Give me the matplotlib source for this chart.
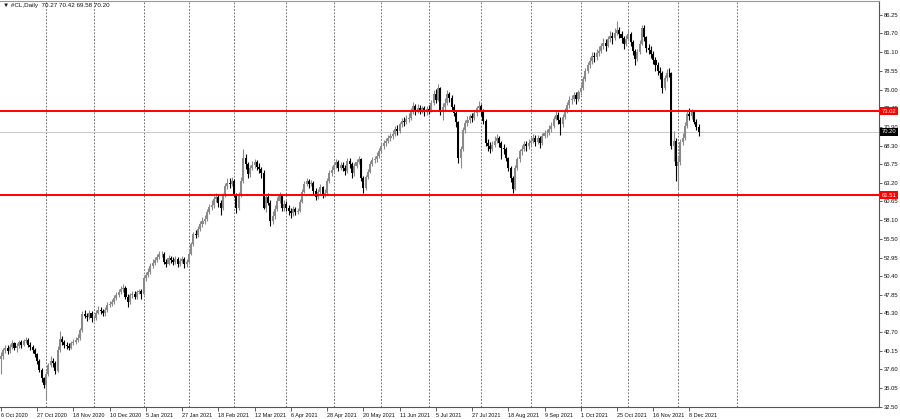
import numpy as np
import matplotlib
matplotlib.use("Agg")
import matplotlib.pyplot as plt

# ---- data (daily bars, #CL) ----
symbol = "#CL,Daily"
last_ohlc = ["70.27", "70.42", "69.58", "70.20"]
first_open = 39.0

closes = [
    39.4, 40.2, 40.6, 40.1, 40.7, 41.2, 40.5, 40.8, 41.3, 41.0,
    41.5, 41.7, 41.0, 40.7, 40.2, 39.7, 38.8, 37.5, 36.4, 35.4,
    37.0, 38.2, 38.8, 38.5, 37.4, 40.3, 41.8, 41.4, 41.0, 40.8,
    40.6, 41.2, 41.4, 41.6, 41.9, 43.0, 45.2, 45.0, 44.8, 45.3,
    44.6, 44.6, 45.4, 45.8, 45.6, 45.3, 45.7, 46.4, 46.6, 46.8,
    47.4, 47.8, 48.2, 48.6, 48.8, 47.6, 46.9, 47.8, 48.0, 47.6,
    48.2, 48.4, 48.0, 50.2, 50.6, 51.0, 51.8, 52.2, 52.6, 53.0,
    53.4, 53.5, 52.4, 52.1, 52.9, 52.6, 52.4, 52.8, 52.1, 52.5,
    52.7, 52.0, 52.3, 53.5, 54.8, 56.2, 56.0, 56.9, 57.6, 58.0,
    58.3, 59.2, 59.9, 60.1, 61.0, 61.2, 60.5, 59.8, 61.5, 62.8,
    63.2, 63.0, 63.5, 61.5, 59.8, 61.6, 63.5, 66.6, 65.8, 64.4,
    65.2, 65.6, 66.0, 65.4, 65.1, 64.6, 59.8, 61.2, 60.5, 58.0,
    58.6, 59.6, 60.7, 61.4, 59.8, 60.3, 59.8, 59.4, 59.0, 59.6,
    59.2, 59.4, 60.6, 62.0, 63.1, 63.4, 63.0, 63.2, 62.1, 61.2,
    61.9, 62.6, 61.5, 61.8, 63.4, 64.6, 65.0, 65.6, 66.0, 65.3,
    65.7, 65.3, 64.8, 66.2, 65.8, 64.5, 65.5, 66.1, 66.5, 63.9,
    62.5, 64.0, 64.7, 65.8, 66.3, 66.4, 66.9, 67.6, 68.3, 68.7,
    68.9, 69.3, 69.6, 69.9, 70.6, 70.3, 71.2, 71.7, 71.5, 72.0,
    72.1, 73.0, 73.8, 73.1, 73.5, 73.1, 73.4, 72.9, 73.3, 73.1,
    74.2, 75.4, 74.6, 76.2, 73.1, 73.6, 74.2, 75.4, 74.9, 73.6,
    72.8, 71.5, 66.6, 67.8, 70.4, 71.4, 71.8, 72.3, 72.1, 72.8,
    73.4, 73.8, 73.0, 71.7, 68.7, 68.3, 67.9, 68.4, 69.0, 69.3,
    68.6, 68.0, 67.9, 66.6, 65.3, 63.8, 62.4, 65.3, 66.4, 67.5,
    67.9, 68.5, 68.2, 68.7, 69.0, 69.4, 68.8, 69.3, 68.7, 69.6,
    70.0, 70.1, 70.6, 71.0, 72.0, 72.5, 71.8, 71.3, 72.2, 73.1,
    73.9, 74.6, 74.7, 75.2, 74.7, 75.6, 76.2, 77.4, 78.6, 79.4,
    79.9, 80.6, 80.4, 81.0, 81.3, 81.9, 82.4, 82.0, 82.9, 83.4,
    83.0, 83.8, 84.1, 83.6, 83.1, 82.3, 82.9, 83.6, 82.5, 81.3,
    80.2, 81.2, 82.3, 84.5, 83.2, 81.7, 81.4, 80.9, 80.1, 79.3,
    78.6, 78.3, 76.2, 77.6, 78.3, 78.2, 68.3, 69.0, 65.5, 66.0,
    68.8, 69.4, 71.0, 72.6, 72.3, 72.9, 71.6, 70.9, 70.2,
]

highs = [
    40.0, 40.5, 41.0, 40.9, 41.1, 41.6, 41.4, 41.2, 41.7, 41.6,
    41.8, 42.0, 41.9, 41.3, 41.0, 40.5, 39.9, 39.1, 37.8, 36.6,
    37.4, 38.5, 39.5, 39.2, 38.7, 40.8, 42.9, 42.2, 41.7, 41.4,
    41.2, 41.5, 41.8, 42.0, 42.5, 43.3, 45.6, 45.8, 45.4, 45.7,
    45.6, 45.1, 45.8, 46.3, 46.2, 45.9, 46.1, 46.8, 47.0, 47.3,
    47.8, 48.2, 48.6, 49.1, 49.3, 49.0, 47.9, 48.1, 48.4, 48.3,
    48.5, 48.7, 48.6, 50.5, 51.0, 51.5, 52.2, 52.7, 53.0, 53.5,
    53.9, 53.9, 53.7, 52.8, 53.3, 53.2, 53.0, 53.2, 53.0, 52.9,
    53.1, 53.0, 52.7, 53.8, 55.1, 56.5, 56.7, 57.3, 58.0, 58.5,
    58.8, 59.6, 60.3, 60.9, 61.4, 61.8, 61.5, 60.8, 61.8, 63.2,
    63.8, 63.8, 64.0, 63.7, 61.8, 62.0, 64.0, 67.9, 67.1, 66.1,
    65.7, 66.2, 66.5, 66.3, 65.9, 65.4, 64.9, 61.6, 61.8, 60.9,
    59.3, 60.2, 61.3, 61.9, 61.6, 60.8, 60.7, 60.2, 59.8, 60.0,
    59.9, 59.8, 61.0, 62.3, 63.5, 63.8, 63.7, 63.6, 63.4, 62.5,
    62.3, 63.0, 62.8, 62.3, 63.8, 65.0, 65.5, 66.0, 66.5, 66.3,
    66.1, 66.0, 65.6, 66.6, 66.6, 66.0, 65.9, 66.5, 66.9, 66.6,
    64.2, 64.3, 65.1, 66.2, 66.7, 66.9, 67.4, 68.0, 68.7, 69.1,
    69.4, 69.7, 70.0, 70.5, 71.0, 71.1, 71.6, 72.1, 72.2, 72.5,
    72.8, 73.4, 74.3, 74.0, 74.0, 73.9, 73.8, 73.7, 73.8, 73.9,
    74.6, 75.9, 76.1, 76.8, 76.4, 74.1, 74.8, 75.9, 75.7, 75.2,
    74.0, 73.1, 71.7, 68.2, 70.8, 71.8, 72.3, 72.7, 72.8, 73.2,
    73.8, 74.4, 74.0, 73.3, 71.9, 69.2, 68.8, 68.9, 69.6, 69.9,
    69.6, 68.9, 68.5, 68.1, 66.8, 65.5, 64.1, 65.6, 66.8, 67.9,
    68.4, 69.0, 69.0, 69.2, 69.5, 69.9, 69.7, 69.8, 69.6, 70.1,
    70.5, 70.6, 71.1, 71.5, 72.4, 73.2, 72.9, 72.2, 72.6, 73.5,
    74.3, 75.1, 75.3, 75.7, 75.6, 76.0, 76.7, 77.8, 79.0, 79.8,
    80.4, 81.1, 81.2, 81.5, 81.9, 82.4, 83.0, 82.9, 83.4, 84.0,
    83.9, 84.4, 85.4, 84.6, 84.0, 83.4, 83.5, 84.2, 83.9, 82.8,
    81.6, 81.6, 82.8, 84.9, 84.8, 83.4, 82.2, 81.9, 81.3, 80.5,
    79.8, 79.1, 78.6, 78.0, 78.8, 78.9, 78.4, 70.3, 69.4, 67.0,
    69.2, 70.0, 71.6, 73.1, 73.4, 73.3, 73.1, 72.0, 71.3,
]

lows = [
    37.0, 39.1, 39.9, 39.7, 39.9, 40.4, 40.2, 40.0, 40.6, 40.6,
    40.8, 41.2, 40.7, 40.3, 39.8, 39.3, 38.4, 37.2, 35.9, 35.0,
    33.6, 36.7, 37.9, 38.0, 37.0, 37.2, 40.0, 40.9, 40.5, 40.4,
    40.2, 40.4, 40.9, 41.1, 41.3, 41.7, 42.8, 44.6, 44.3, 44.5,
    44.1, 44.2, 44.4, 45.2, 45.2, 44.9, 45.0, 45.5, 46.1, 46.3,
    46.6, 47.1, 47.5, 47.9, 48.2, 47.2, 46.2, 46.6, 47.4, 47.2,
    47.3, 47.9, 47.2, 47.8, 49.8, 50.3, 50.7, 51.5, 51.9, 52.3,
    52.7, 53.0, 52.0, 51.7, 51.9, 52.2, 51.9, 52.1, 51.6, 51.8,
    52.2, 51.5, 51.7, 52.1, 53.3, 54.6, 55.6, 55.8, 56.6, 57.2,
    57.5, 58.0, 58.9, 59.5, 59.8, 60.6, 59.9, 58.8, 59.5, 61.2,
    62.4, 62.5, 62.7, 61.2, 59.1, 59.5, 61.3, 63.2, 65.1, 63.9,
    64.0, 64.9, 65.2, 64.9, 64.6, 63.9, 59.6, 59.2, 60.1, 57.3,
    57.6, 58.3, 59.4, 60.5, 59.4, 59.4, 59.3, 58.8, 58.4, 58.7,
    58.8, 58.9, 59.2, 60.4, 61.8, 62.8, 62.5, 62.7, 61.7, 60.9,
    61.0, 61.6, 61.1, 61.2, 61.6, 63.2, 64.2, 64.7, 65.3, 64.8,
    65.0, 64.8, 64.3, 64.6, 65.2, 63.9, 64.2, 65.2, 65.8, 63.5,
    61.8, 62.2, 63.7, 64.5, 65.5, 65.9, 66.1, 66.6, 67.3, 67.9,
    68.3, 68.6, 69.0, 69.2, 69.6, 69.8, 70.0, 70.8, 71.0, 71.2,
    71.6, 71.8, 72.7, 72.5, 72.8, 72.6, 72.8, 72.4, 72.5, 72.6,
    72.9, 73.9, 74.1, 74.4, 72.5, 71.8, 73.2, 73.9, 74.3, 73.1,
    72.3, 70.9, 65.9, 65.3, 67.5, 70.0, 71.0, 71.4, 71.6, 71.8,
    72.4, 72.9, 72.4, 71.2, 68.2, 67.6, 67.3, 67.5, 68.1, 68.7,
    68.1, 66.4, 67.2, 66.2, 64.8, 63.3, 61.8, 62.2, 65.0, 66.1,
    67.0, 67.5, 67.6, 67.9, 68.3, 68.6, 68.2, 68.5, 68.0, 68.4,
    69.3, 69.5, 69.8, 70.2, 70.7, 71.8, 71.2, 69.7, 70.9, 71.9,
    72.8, 73.5, 74.0, 74.4, 74.0, 74.4, 75.2, 75.9, 77.1, 78.2,
    79.0, 79.5, 79.8, 80.0, 80.6, 81.0, 81.6, 81.3, 81.8, 82.5,
    82.3, 82.8, 83.5, 83.0, 82.4, 81.6, 81.9, 82.6, 81.9, 80.8,
    79.4, 79.9, 80.9, 82.1, 82.7, 81.1, 80.9, 80.3, 79.5, 78.6,
    78.0, 77.4, 75.5, 75.9, 77.2, 77.7, 67.9, 66.2, 63.5, 62.4,
    65.6, 68.4, 69.1, 70.7, 71.8, 71.9, 71.2, 70.5, 69.6,
]

date_labels = ["6 Oct 2020", "27 Oct 2020", "18 Nov 2020", "10 Dec 2020",
               "5 Jan 2021", "27 Jan 2021", "18 Feb 2021", "12 Mar 2021",
               "6 Apr 2021", "28 Apr 2021", "20 May 2021", "11 Jun 2021",
               "5 Jul 2021", "27 Jul 2021", "18 Aug 2021", "9 Sep 2021",
               "1 Oct 2021", "25 Oct 2021", "16 Nov 2021", "8 Dec 2021"]
label_step = 16  # bars between two date labels

# bar index of the first trading day of each month (vertical grid)
month_starts = [20, 41, 63, 83, 103, 126, 147, 168, 189, 212, 234, 256, 277, 299, 325]

price_ticks = [86.25, 83.70, 81.10, 78.55, 76.00, 73.45, 70.90, 68.30, 65.75,
               63.20, 60.65, 58.10, 55.50, 52.95, 50.40, 47.85, 45.30, 42.70,
               40.15, 37.60, 35.05, 32.50]

level_hi = 73.02
level_lo = 61.51
last_price = 70.20

# ---- build candles ----
closes = np.array(closes)
opens = np.r_[first_open, closes[:-1]]
highs = np.maximum(np.array(highs), np.maximum(opens, closes))
lows = np.minimum(np.array(lows), np.minimum(opens, closes))
idx = np.arange(len(closes))
up = closes >= opens

bull = "#8a8a8a"
bear = "#000000"

plt.rcParams['font.family'] = ['Liberation Sans', 'DejaVu Sans']

fig = plt.figure(figsize=(9, 4.19), dpi=100)
ax = fig.add_axes([0, 12 / 419, 879 / 900, 406 / 419])

for m in month_starts:
    ax.axvline(m, color="#555555", lw=0.6, ls=(0, (2, 2)), zorder=0)

ax.axhline(last_price, color="#c8c8c8", lw=0.7, zorder=1)

ax.vlines(idx[up], lows[up], highs[up], color=bull, lw=0.8, zorder=2)
ax.vlines(idx[~up], lows[~up], highs[~up], color=bear, lw=0.8, zorder=2)
body = np.maximum(np.abs(closes - opens), 0.1)
bottom = np.minimum(opens, closes)
ax.bar(idx[up], body[up], bottom=bottom[up], width=0.9, color=bull, lw=0, zorder=3)
ax.bar(idx[~up], body[~up], bottom=bottom[~up], width=0.9, color=bear, lw=0, zorder=3)

ax.axhline(level_hi, color="#ff0000", lw=1.4, zorder=4)
ax.axhline(level_lo, color="#ff0000", lw=1.4, zorder=4)

ax.set_xlim(-0.4, 879 / 2.265 - 0.4)
ax.set_ylim(32.45, 88.14)

# right price scale
ax.yaxis.tick_right()
ax.set_yticks(price_ticks)
ax.set_yticklabels([f"{v:.2f}" for v in price_ticks])
ax.tick_params(axis="y", length=2.5, width=0.6, color="#444444",
               labelsize=4.2, pad=1.0, labelcolor="#111111")

# bottom date scale
ax.set_xticks([label_step * k for k in range(len(date_labels))])
ax.set_xticklabels(date_labels)
for lbl in ax.get_xticklabels():
    lbl.set_ha("left")
ax.tick_params(axis="x", length=3, width=0.6, color="#444444",
               labelsize=4.0, pad=1.5, labelcolor="#111111")

ax.spines["left"].set_visible(False)
ax.spines["top"].set_color("#999999")
ax.spines["top"].set_linewidth(0.8)
ax.spines["right"].set_color("#555555")
ax.spines["right"].set_linewidth(0.8)
ax.spines["bottom"].set_color("#555555")
ax.spines["bottom"].set_linewidth(0.8)

# price tags on the scale
trans = ax.get_yaxis_transform()
for val, bg in [(level_hi, "#ff0000"), (level_lo, "#ff0000"), (last_price, "#000000")]:
    ax.text(1.003, val, f"{val:.2f}", transform=trans, ha="left", va="center",
            fontsize=4.2, color="white", clip_on=False, zorder=10,
            bbox=dict(boxstyle="square,pad=0.3", fc=bg, ec="none"))

fig.text(0.003, 0.992, "\u25bc " + symbol + "  " + " ".join(last_ohlc),
         fontsize=4.5, va="top", ha="left", color="#111111")

fig.savefig("out.png", dpi=100)
